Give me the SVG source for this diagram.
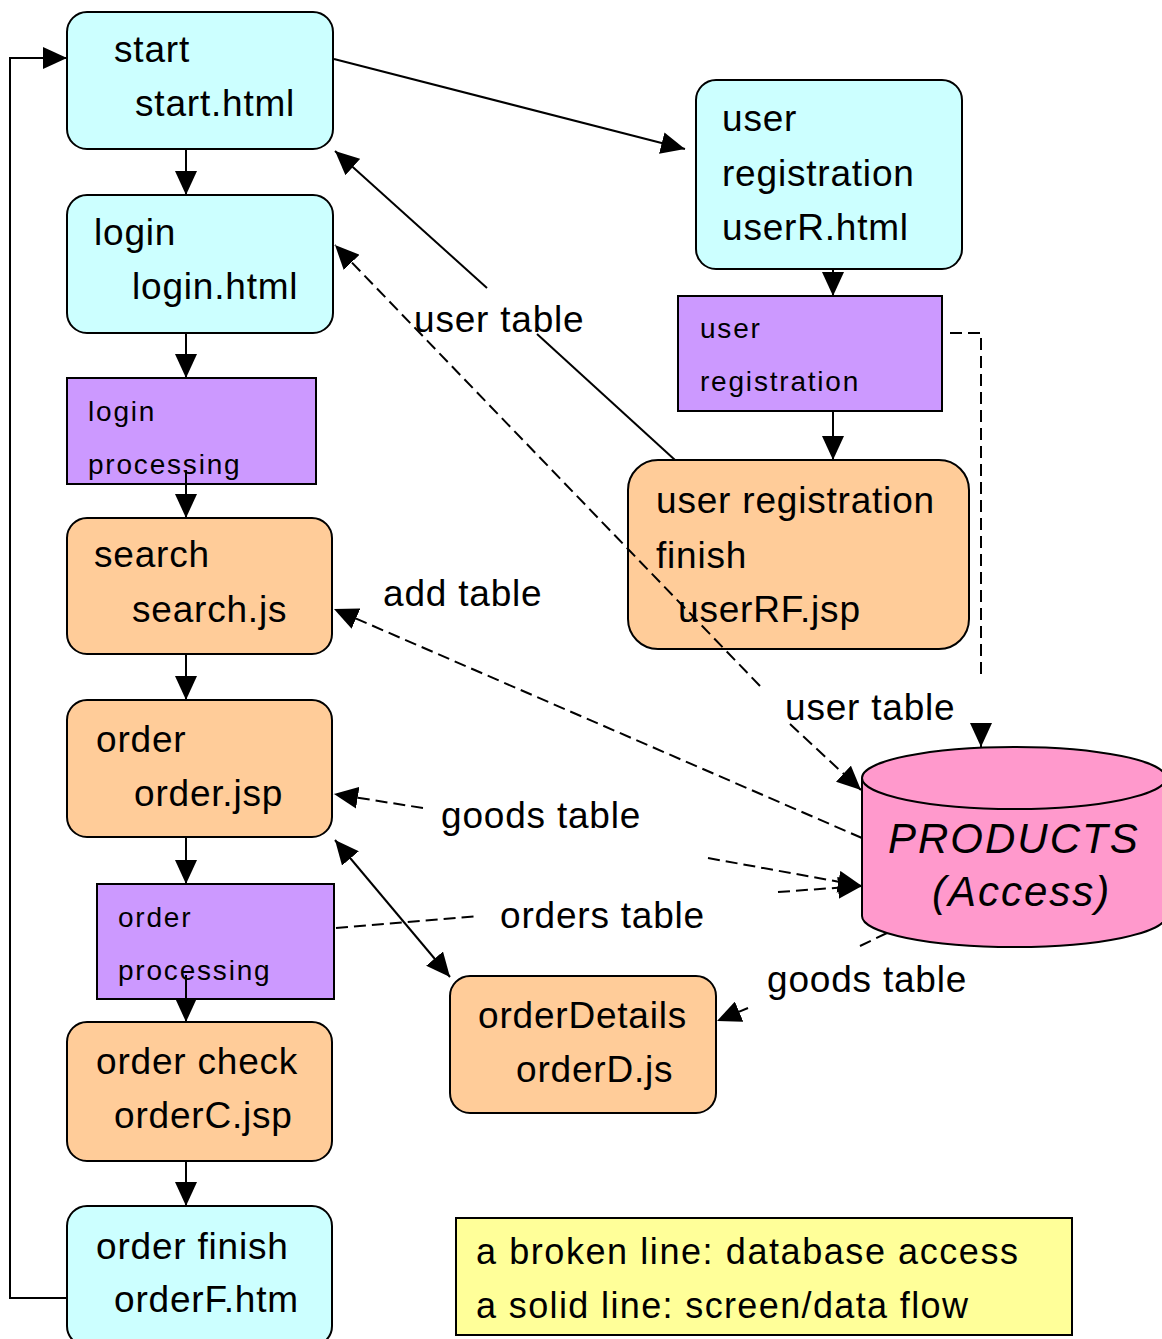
<svg xmlns="http://www.w3.org/2000/svg" width="1162" height="1339" viewBox="0 0 1162 1339">
<style>
text{font-family:"Liberation Sans",Arial,sans-serif;fill:#000}
.t{font-size:37px;letter-spacing:0.8px}
.s{font-size:28px;letter-spacing:1.8px}
.lg{font-size:36px}
.db{font-size:42px;font-style:italic;letter-spacing:2px}
.box{stroke:#000;stroke-width:2}
.cy{fill:#CCFFFF}.pu{fill:#CC99FF}.or{fill:#FFCC99}.pk{fill:#FF99CC}.ye{fill:#FFFF99}
.ln{fill:none;stroke:#000;stroke-width:2}
.da{fill:none;stroke:#000;stroke-width:2;stroke-dasharray:12 6}
</style>
<defs>
<marker id="ah" viewBox="0 0 24 22" refX="24" refY="11" markerWidth="24" markerHeight="22" markerUnits="userSpaceOnUse" orient="auto-start-reverse">
<path d="M0,0 L24,11 L0,22 Z" fill="#000"/>
</marker>
</defs>
<rect width="1162" height="1339" fill="#fff"/>

<g id="node-start"><rect class="box cy" x="67" y="12" width="266" height="137" rx="20"/>
<text class="t" x="114" y="62">start</text><text class="t" x="135" y="116">start.html</text></g>

<g id="node-login"><rect class="box cy" x="67" y="195" width="266" height="138" rx="20"/>
<text class="t" x="94" y="245">login</text><text class="t" x="132" y="299">login.html</text></g>

<g id="node-login-processing"><rect class="box pu" x="67" y="378" width="249" height="106"/>
<text class="s" x="88" y="421">login</text><text class="s" x="88" y="474">processing</text></g>

<g id="node-search"><rect class="box or" x="67" y="518" width="265" height="136" rx="20"/>
<text class="t" x="94" y="567">search</text><text class="t" x="132" y="622">search.js</text></g>

<g id="node-order"><rect class="box or" x="67" y="700" width="265" height="137" rx="20"/>
<text class="t" x="96" y="752">order</text><text class="t" x="134" y="806">order.jsp</text></g>

<g id="node-order-processing"><rect class="box pu" x="97" y="884" width="237" height="115"/>
<text class="s" x="118" y="927">order</text><text class="s" x="118" y="980">processing</text></g>

<g id="node-order-check"><rect class="box or" x="67" y="1022" width="265" height="139" rx="20"/>
<text class="t" x="96" y="1074">order check</text><text class="t" x="114" y="1128">orderC.jsp</text></g>

<g id="node-order-finish"><rect class="box cy" x="67" y="1206" width="265" height="140" rx="20"/>
<text class="t" x="96" y="1259">order finish</text><text class="t" x="114" y="1312">orderF.htm</text></g>

<g id="node-user-registration"><rect class="box cy" x="696" y="80" width="266" height="189" rx="20"/>
<text class="t" x="722" y="131">user</text><text class="t" x="722" y="186">registration</text><text class="t" x="722" y="240">userR.html</text></g>

<g id="node-user-registration-processing"><rect class="box pu" x="678" y="296" width="264" height="115"/>
<text class="s" x="700" y="338">user</text><text class="s" x="700" y="391">registration</text></g>

<g id="node-user-registration-finish"><rect class="box or" x="628" y="460" width="341" height="189" rx="30"/>
<text class="t" x="656" y="513">user registration</text><text class="t" x="656" y="568">finish</text><text class="t" x="678" y="622">userRF.jsp</text></g>

<g id="node-order-details"><rect class="box or" x="450" y="976" width="266" height="137" rx="20"/>
<text class="t" x="478" y="1028">orderDetails</text><text class="t" x="516" y="1082">orderD.js</text></g>

<g id="node-products">
<path class="box pk" d="M862,778 A152,31 0 0 1 1166,778 L1166,916 A152,31 0 0 1 862,916 Z"/>
<path class="box" fill="none" d="M862,778 A152,31 0 0 0 1166,778"/>
<text class="db" x="888" y="853">PRODUCTS</text><text class="db" x="932" y="906">(Access)</text></g>

<g id="legend"><rect class="box ye" x="456" y="1218" width="616" height="117"/>
<text class="lg" x="476" y="1264" textLength="542" lengthAdjust="spacing">a broken line: database access</text>
<text class="lg" x="476" y="1318" textLength="492" lengthAdjust="spacing">a solid line: screen/data flow</text></g>

<g id="connectors">
<path class="ln" d="M186,150 V195" marker-end="url(#ah)"/>
<path class="ln" d="M186,333 V378" marker-end="url(#ah)"/>
<path class="ln" d="M186,470 V518" marker-end="url(#ah)"/>
<path class="ln" d="M186,654 V700" marker-end="url(#ah)"/>
<path class="ln" d="M186,837 V884" marker-end="url(#ah)"/>
<path class="ln" d="M186,975 V1022" marker-end="url(#ah)"/>
<path class="ln" d="M186,1161 V1206" marker-end="url(#ah)"/>
<path class="ln" d="M67,1298 H10 V58 H67" marker-end="url(#ah)"/>
<path class="ln" d="M334,59 L685,149" marker-end="url(#ah)"/>
<path class="ln" d="M833,269 V296" marker-end="url(#ah)"/>
<path class="ln" d="M833,411 V460" marker-end="url(#ah)"/>
<path class="ln" d="M675,460 L537,334"/>
<path class="ln" d="M487,288 L335,151" marker-end="url(#ah)"/>
<path class="da" d="M760,686 L335,245" marker-end="url(#ah)"/>
<path class="da" d="M790,724 L861,790" marker-end="url(#ah)"/>
<path class="da" d="M862,838 L334,609" marker-end="url(#ah)"/>
<path class="da" d="M423,808 L334,794" marker-end="url(#ah)"/>
<path class="da" d="M708,858 L862,886" marker-end="url(#ah)"/>
<path class="da" d="M336,928 L478,916"/>
<path class="da" d="M778,892 L862,886" marker-end="url(#ah)"/>
<path class="ln" d="M335,840 L450,977" marker-start="url(#ah)" marker-end="url(#ah)"/>
<path class="da" d="M887,933 L860,946"/>
<path class="da" d="M748,1008 L717,1021" marker-end="url(#ah)"/>
<path class="da" d="M950,333 H981 V676"/>
<path class="ln" d="M981,724 V747" marker-end="url(#ah)"/>
</g>

<g id="labels">
<text class="t" x="414" y="332">user table</text>
<text class="t" x="383" y="606">add table</text>
<text class="t" x="785" y="720">user table</text>
<text class="t" x="441" y="828">goods table</text>
<text class="t" x="500" y="928">orders table</text>
<text class="t" x="767" y="992">goods table</text>
</g>
</svg>
